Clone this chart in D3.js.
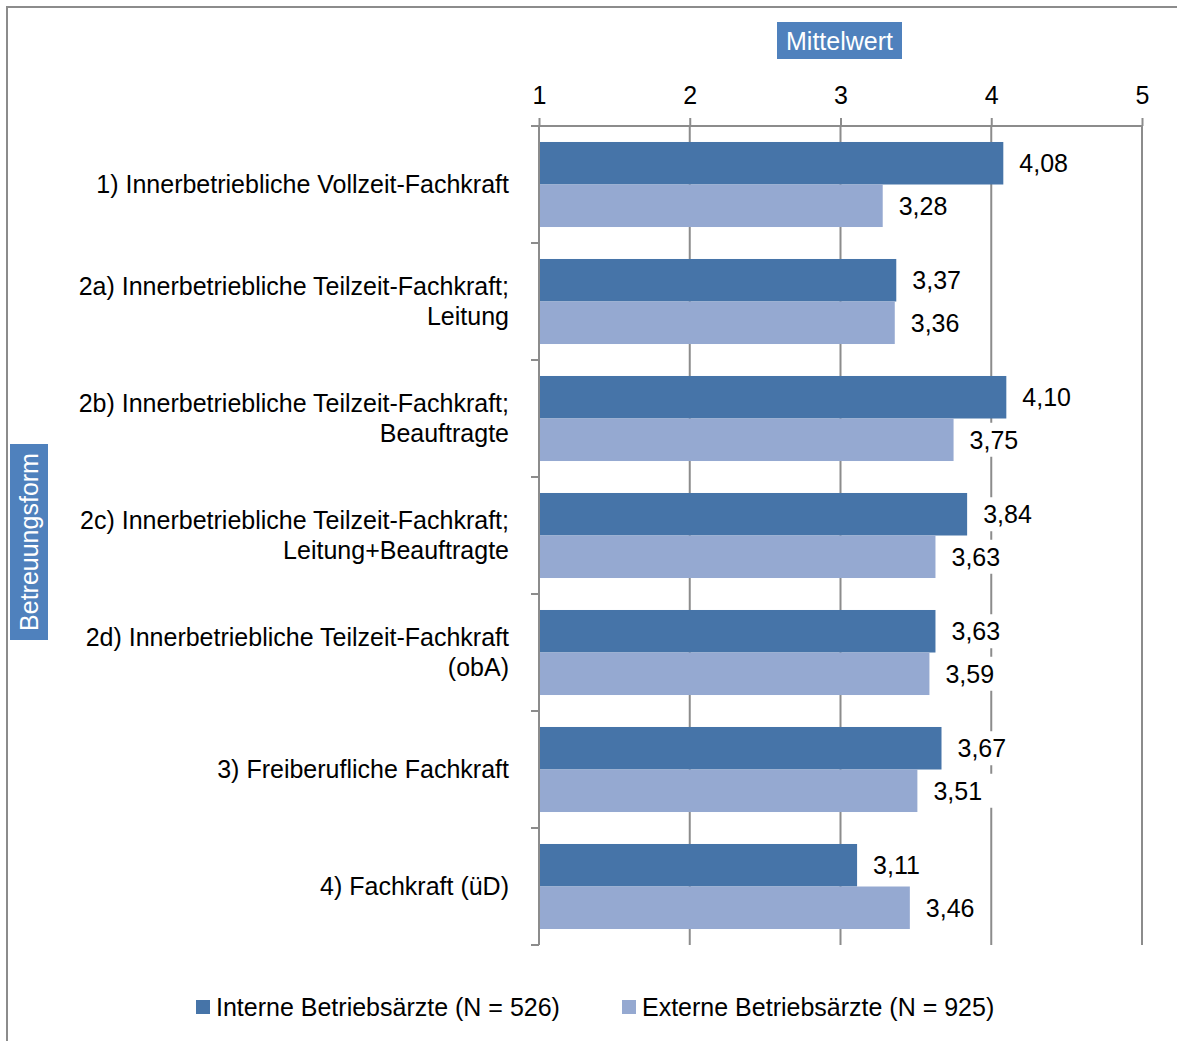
<!DOCTYPE html>
<html><head><meta charset="utf-8">
<script src="https://cdn.jsdelivr.net/npm/d3@7"></script>
<style>body{margin:0;background:#fff}svg{display:block;font-family:"Liberation Sans",Arial,sans-serif}</style>
</head><body>
<svg id="c" width="1177" height="1041"></svg>
<script>
const categories = [
  ["1) Innerbetriebliche Vollzeit-Fachkraft"],
  ["2a) Innerbetriebliche Teilzeit-Fachkraft;","Leitung"],
  ["2b) Innerbetriebliche Teilzeit-Fachkraft;","Beauftragte"],
  ["2c) Innerbetriebliche Teilzeit-Fachkraft;","Leitung+Beauftragte"],
  ["2d) Innerbetriebliche Teilzeit-Fachkraft","(obA)"],
  ["3) Freiberufliche Fachkraft"],
  ["4) Fachkraft (üD)"]
];
const interne = [4.08, 3.37, 4.10, 3.84, 3.63, 3.67, 3.11];
const externe = [3.28, 3.36, 3.75, 3.63, 3.59, 3.51, 3.46];
const seriesNames = ["Interne Betriebsärzte (N = 526)", "Externe Betriebsärzte (N = 925)"];
const tickValues = [1, 2, 3, 4, 5];
const colors = ["#4674A8", "#95A9D1"];

const svg = d3.select("#c");
const fs = 25;
// frame
svg.append("path").attr("d","M7,1041 V7 H1177").attr("fill","none").attr("stroke","#8c8c8c").attr("stroke-width",2);

const x = d3.scaleLinear().domain([1,5]).range([539,1142]);
const y = d3.scaleBand().domain(d3.range(categories.length)).range([126,945]);
const inner = d3.scaleBand().domain([0,1]).range([0,y.bandwidth()]).paddingOuter(0.376).paddingInner(0);

// gridlines
svg.append("g").selectAll("line").data(tickValues.slice(1)).join("line")
  .attr("x1",d=>x(d)).attr("x2",d=>x(d)).attr("y1",126).attr("y2",945)
  .attr("stroke","#8c8c8c").attr("stroke-width",2);

// top axis
const ax = svg.append("g").attr("transform","translate(0,126)")
  .call(d3.axisTop(x).tickValues(tickValues).tickFormat(d3.format("d")).tickSize(8).tickPadding(14));
ax.select(".domain").attr("stroke","#8c8c8c").attr("stroke-width",2).attr("d","M531,0H1142");
ax.selectAll(".tick line").attr("stroke","#8c8c8c").attr("stroke-width",2);
ax.selectAll(".tick text").attr("font-size",fs).attr("fill","#000").attr("font-family","Liberation Sans, Arial, sans-serif");

// left axis
svg.append("line").attr("x1",539).attr("x2",539).attr("y1",126).attr("y2",945).attr("stroke","#8c8c8c").attr("stroke-width",2);
svg.append("g").selectAll("line").data(d3.range(categories.length+1)).join("line")
  .attr("x1",531).attr("x2",539)
  .attr("y1",d=>d<categories.length? y(d): y(categories.length-1)+y.bandwidth())
  .attr("y2",d=>d<categories.length? y(d): y(categories.length-1)+y.bandwidth())
  .attr("stroke","#8c8c8c").attr("stroke-width",2);

// bars
const data = [];
categories.forEach((c,i)=>{ data.push({i,s:0,v:interne[i]}); data.push({i,s:1,v:externe[i]}); });
svg.append("g").selectAll("rect").data(data).join("rect")
  .attr("x",x(1)+1).attr("y",d=>y(d.i)+inner(d.s))
  .attr("width",d=>x(d.v)-x(1)-1).attr("height",inner.bandwidth())
  .attr("fill",d=>colors[d.s]);

// value labels with white background
const fmt = v => v.toFixed(2).replace(".",",");
const lg = svg.append("g").selectAll("g").data(data).join("g")
  .attr("transform",d=>`translate(${x(d.v)+16},${y(d.i)+inner(d.s)+inner.bandwidth()/2})`);
lg.append("rect").attr("x",-4).attr("y",-17).attr("width",64).attr("height",34).attr("fill","#fff");
lg.append("text").attr("dy","0.35em").attr("font-size",fs).attr("fill","#000").text(d=>fmt(d.v));

// category labels
const cg = svg.append("g").selectAll("text").data(categories).join("text")
  .attr("text-anchor","end").attr("font-size",fs).attr("fill","#000")
  .attr("transform",(d,i)=>`translate(509,${y(i)+y.bandwidth()/2})`);
cg.each(function(d){
  const t = d3.select(this);
  const n = d.length;
  d.forEach((line,k)=>{
    t.append("tspan").attr("x",0).attr("y",(k-(n-1)/2)*30).attr("dy","0.35em").text(line);
  });
});

// Mittelwert box
svg.append("rect").attr("x",777).attr("y",22).attr("width",125).attr("height",37).attr("fill","#4F81BD");
svg.append("text").attr("x",839.5).attr("y",41).attr("dy","0.35em").attr("text-anchor","middle")
  .attr("font-size",fs).attr("fill","#fff").text("Mittelwert");

// Betreuungsform box
svg.append("rect").attr("x",10).attr("y",444).attr("width",38).attr("height",196).attr("fill","#4F81BD");
svg.append("text").attr("transform","translate(29,542) rotate(-90)").attr("dy","0.35em").attr("text-anchor","middle")
  .attr("font-size",fs).attr("fill","#fff").text("Betreuungsform");

// legend
const legX = [196, 622];
const leg = svg.append("g").selectAll("g").data(seriesNames).join("g")
  .attr("transform",(d,i)=>`translate(${legX[i]},1007)`);
leg.append("rect").attr("x",0).attr("y",-7).attr("width",14).attr("height",14).attr("fill",(d,i)=>colors[i]);
leg.append("text").attr("x",20).attr("dy","0.35em").attr("font-size",fs).attr("fill","#000").text(d=>d);
</script>
</body></html>
